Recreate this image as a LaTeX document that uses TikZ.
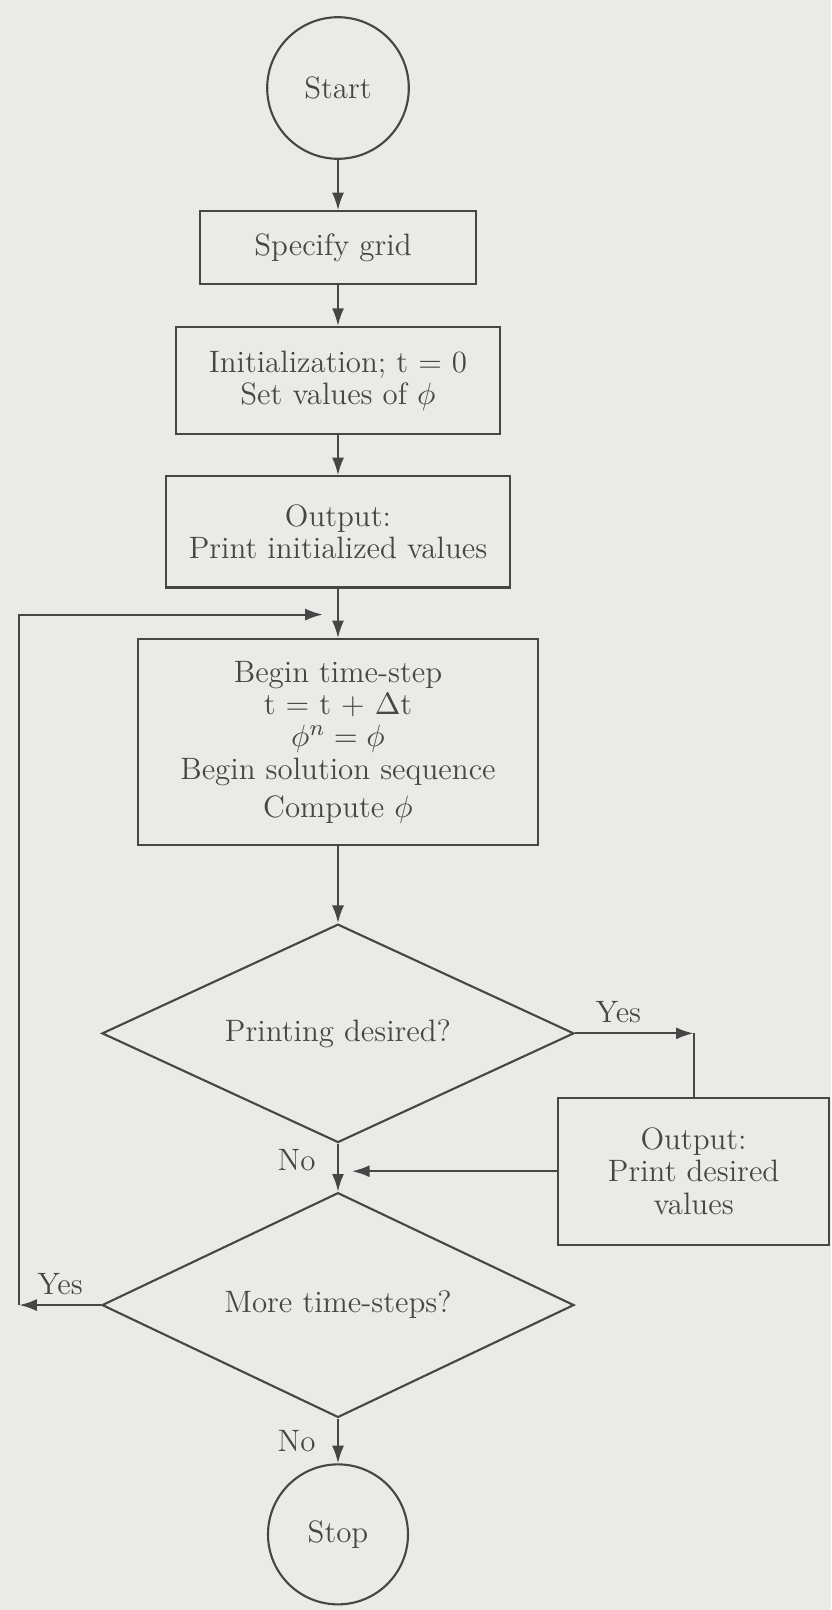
\documentclass[tikz,border=0pt]{standalone}
\usepackage{amsmath}
\usepackage{xcolor}
\usepackage{tikz}
\usetikzlibrary{positioning,arrows.meta,shapes.geometric}

\definecolor{paper}{RGB}{234,234,231}
\definecolor{ink}{RGB}{70,70,70}

\begin{document}
\begin{tikzpicture}[
		node distance=6mm,
		flowbox/.style={
			draw=ink,
			line width=0.75pt,
			align=center,
			text=ink,
			inner sep=2pt,
			font=\fontsize{11}{11.5}\selectfont
		},
		terminal/.style={
			draw=ink,
			circle,
			line width=0.75pt,
			minimum size=1.77cm,
			text=ink,
			font=\fontsize{11}{11.5}\selectfont
		},
		decision/.style={
			draw=ink,
			diamond,
			aspect=2.15,
			line width=0.75pt,
			inner sep=0pt,
			minimum width=5.9cm,
			minimum height=2.73cm,
			text=ink,
			font=\fontsize{11}{11.5}\selectfont
		},
		flowlabel/.style={text=ink, font=\fontsize{11}{11.5}\selectfont},
		arrow/.style={-{Latex[length=2.2mm,width=1.5mm]}, draw=ink, line width=0.75pt}
	]
		% page and background
		\fill[paper] (0,0) rectangle (10.3875,-20.125);
		\useasboundingbox (0,0) rectangle (10.3875,-20.125);

		\node[terminal] (start) at (4.225,-1.1) {Start};
		\node[flowbox, minimum width=3.46cm, minimum height=0.91cm, below=0.63cm of start] (grid) {
			Specify grid
		};
		\node[flowbox, minimum width=4.05cm, minimum height=1.34cm, below=0.51cm of grid] (init) {
			Initialization; t = 0\\
			Set values of $\phi$
		};
		\node[flowbox, minimum width=4.31cm, minimum height=1.39cm, below=0.5cm of init] (initout) {
			Output:\\
			Print initialized values
		};
		\node[flowbox, minimum width=5.01cm, minimum height=2.575cm, below=0.62cm of initout] (timestep) {
			Begin time-step\\
			t = t + $\Delta$t\\
			$\phi^{n} = \phi$\\
			Begin solution sequence\\[2pt]
			Compute $\phi$
		};
		\node[decision, below=0.96cm of timestep] (printing) {Printing desired?};
		\node[decision, minimum height=2.81cm, below=0.6cm of printing] (more) {
			More time-steps?
		};
		\node[terminal, minimum size=1.75cm, below=0.56cm of more] (stop) {Stop};
		\node[flowbox, minimum width=3.39cm, minimum height=1.84cm] (printout) at (8.67,-14.64) {
			Output:\\
			Print desired\\
			values
		};

		% free ends of the connectors
		\coordinate (rail) at (0.24,0);
		\path (initout.south) ++(-0.19,-0.325) coordinate (loopin);
		\coordinate (yesturn) at (printout.north |- printing.east);
		\path (printing.south |- printout.west) ++(0.175,0) coordinate (noin);

		\draw[arrow] (start) -- (grid);
		\draw[arrow] (grid) -- (init);
		\draw[arrow] (init) -- (initout);
		\draw[arrow] (initout) -- (timestep);
		\draw[arrow] (timestep) -- (printing);
		\draw[arrow] (printing) -- node[flowlabel, left=1.5mm, yshift=1mm] {No} (more);
		\draw[arrow] (printing.east) -- node[flowlabel, above, xshift=-2mm] {Yes} (yesturn);
		\draw[ink, line width=0.75pt] (yesturn) -- (printout.north);
		\draw[arrow] (printout.west) -- (noin);
		\draw[arrow] (more.west) -- node[flowlabel, above] {Yes} (rail |- more.west);
		\draw[arrow] (rail |- more.west) |- (loopin);
		\draw[arrow] (more) -- node[flowlabel, left=1.5mm] {No} (stop);
	\end{tikzpicture}
\end{document}
